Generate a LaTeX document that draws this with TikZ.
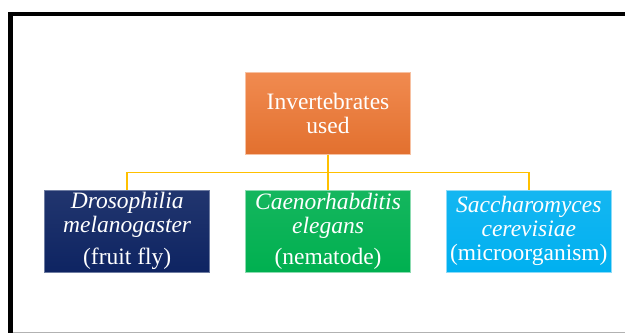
\documentclass[tikz,border=0pt]{standalone}
\usepackage{fontspec}
\setmainfont{Liberation Serif}
\usepackage{xcolor}
\usepackage{tikz}
\usetikzlibrary{positioning}
\definecolor{cnaranja}{HTML}{EE7631}
\definecolor{cazul}{HTML}{0E2462}
\definecolor{cverde}{HTML}{00B050}
\definecolor{ccielo}{HTML}{00B0F0}
\definecolor{cdorado}{HTML}{FFC000}
\tikzset{
  caja/.style={rectangle, minimum width=165pt, minimum height=82pt, inner sep=0pt,
    align=center, text=white, line width=0.8pt,
    font=\fontsize{23.5}{24}\selectfont},
  cajan/.style={caja, top color=cnaranja!85!white, bottom color=cnaranja!95!black, draw=cnaranja!45!white},
  cajaz/.style={caja, top color=cazul!92!white, bottom color=cazul, draw=cazul!60!white},
  cajav/.style={caja, top color=cverde!92!white, bottom color=cverde, draw=cverde!45!white},
  cajac/.style={caja, top color=ccielo!92!white, bottom color=ccielo, draw=ccielo!45!white},
  linea/.style={draw=cdorado, line width=1.8pt},
}

\begin{document}
\begin{tikzpicture}[x=1pt, y=-1pt, node distance=35pt]
  \useasboundingbox (0,0) rectangle (625,333);
  % marco
  \draw[line width=4.5pt] (625,14) -- (10.5,14) -- (10.5,333);
  \draw[line width=1.2pt, black!30] (12.5,332.4) -- (625,332.4);
  % cajas
  \node[cajan] (inv) at (328,113.5) {Invertebrates\\used};
  \node[cajav, below=of inv] (cae) {\textit{Caenorhabditis}\\\textit{elegans}\\[7pt](nematode)};
  \node[cajaz, left=of cae] (dro) {\textit{Drosophilia}\\\textit{melanogaster}\\[8pt](fruit fly)};
  \node[cajac, right=of cae] (sac) {\textit{Saccharomyces}\\\textit{cerevisiae}\\(microorganism)};
  % conectores
  \draw[linea] (inv.south) -- (cae.north);
  \draw[linea] (inv.south) -- ++(0,17.5) -| (dro.north);
  \draw[linea] (inv.south) -- ++(0,17.5) -| (sac.north);
\end{tikzpicture}
\end{document}
